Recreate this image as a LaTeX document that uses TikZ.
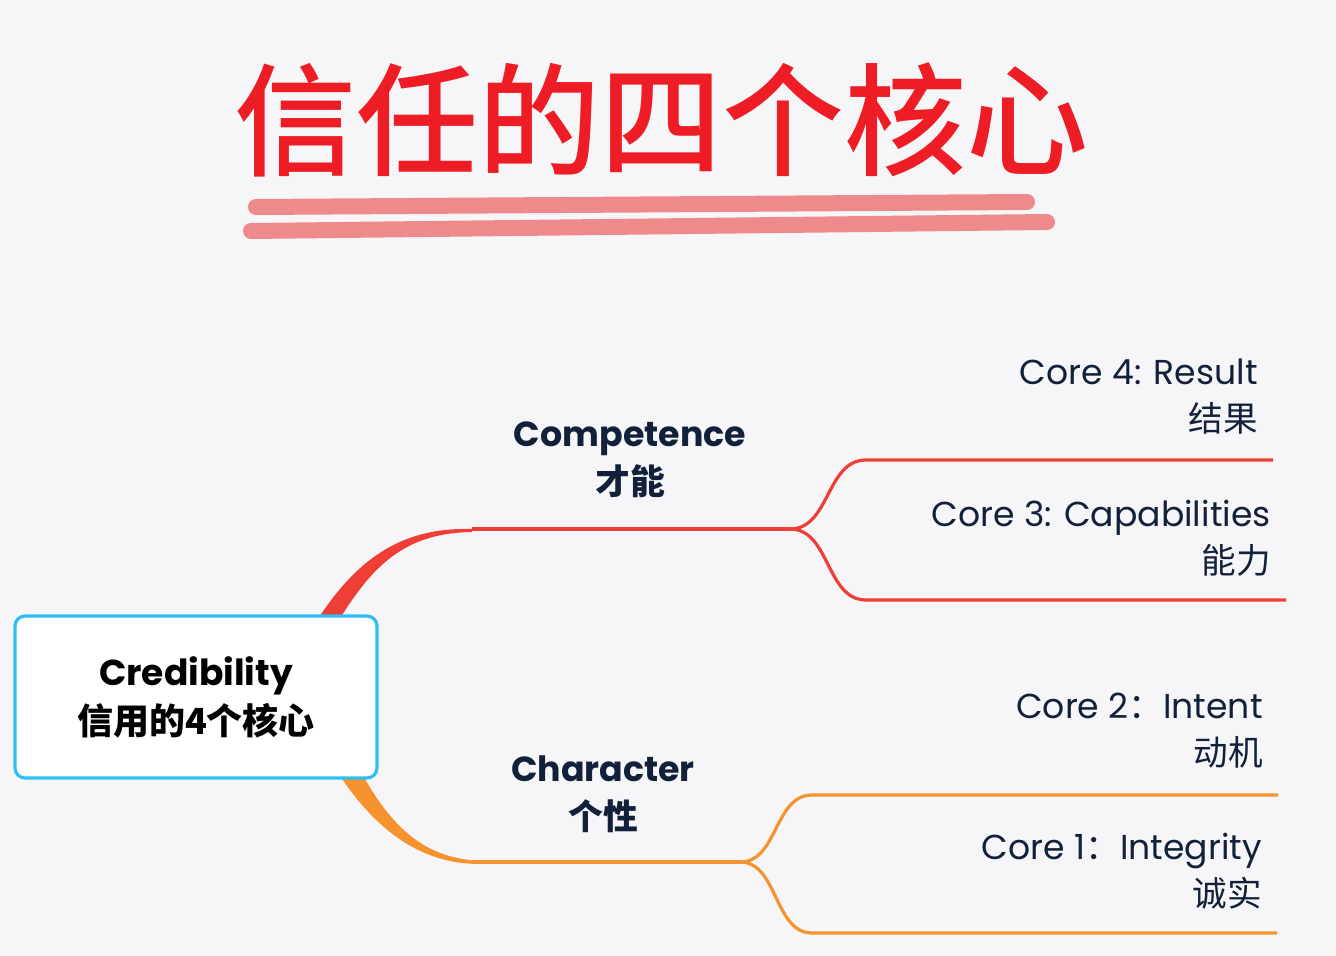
\documentclass[tikz,border=0pt]{standalone}
\usepackage{fontspec}
\setmainfont{Poppins}
\newfontfamily\cjk{Noto Sans CJK SC}
\newfontfamily\cjkmed{Noto Sans CJK SC Medium}
\usepackage{xcolor}
\usepackage{tikz}
\usetikzlibrary{positioning, calc}

\definecolor{bgcol}{HTML}{F6F6F8}
\definecolor{titlered}{HTML}{EE1C25}
\definecolor{underpink}{HTML}{EE8A8C}
\definecolor{rootblue}{HTML}{2FBFF7}
\definecolor{branchred}{HTML}{EE3E36}
\definecolor{branchorange}{HTML}{F7932E}
\definecolor{navy}{HTML}{12203A}

\tikzset{
  rootbox/.style={draw=rootblue, line width=1.6pt, fill=white, rounded corners=5pt,
    minimum width=181pt, minimum height=81pt, align=center, font=\bfseries\fontsize{18}{24.5}\selectfont},
  mainlabel/.style={align=center, text=navy, inner sep=0pt, font=\bfseries\fontsize{17.4}{24}\selectfont},
  leaflabel/.style={anchor=east, align=right, text=navy, inner sep=0pt, font=\fontsize{17.3}{23.5}\selectfont},
  branchline/.style={line width=1.6pt},
  underline/.style={underpink, line width=8pt, line cap=round}
}

\begin{document}
\begin{tikzpicture}[x=0.5pt, y=-0.5pt]

% Canvas
\fill[bgcol] (0,0) rectangle (1336,956);
\useasboundingbox (0,0) rectangle (1336,956);

% Title
\node[text=titlered, inner sep=0pt, font=\cjkmed\fontsize{61}{61}\selectfont] (title) at (661,120) {信任的四个核心};
\draw[underline] (256,207) -- (1027,202);
\draw[underline] (251,231) -- (1047,222);

% Branch points
\coordinate (compL) at (472,529);
\coordinate (compR) at (790,529);
\coordinate (c4L) at (866,460);
\coordinate (c4R) at (1273,460);
\coordinate (c3L) at (866,600);
\coordinate (c3R) at (1286,600);
\coordinate (charL) at (480,862);
\coordinate (charR) at (740,862);
\coordinate (c2L) at (812,795);
\coordinate (c2R) at (1278,795);
\coordinate (c1L) at (812,933);
\coordinate (c1R) at (1277,933);

% Thick roots of the two branches
\fill[branchred] (314,625) .. controls (355,560) and (400,527) .. (compL)
  -- ($(compL)+(0,3)$) .. controls (405,533) and (372,565) .. (336,625) -- cycle;
\fill[branchorange] (336,770) .. controls (375,830) and (420,864) .. ($(charL)+(0,2)$)
  -- ($(charL)+(0,-1)$) .. controls (430,858) and (395,835) .. (360,770) -- cycle;

% Competence branch
\draw[branchline, branchred] (compL) -- (compR);
\draw[branchline, branchred] (compR) .. controls (830,529) and (826,460) .. (c4L) -- (c4R);
\draw[branchline, branchred] (compR) .. controls (830,529) and (826,600) .. (c3L) -- (c3R);

% Character branch
\draw[branchline, branchorange] (compL |- charL) -- (charR);
\draw[branchline, branchorange] (charR) .. controls (778,862) and (774,795) .. (c2L) -- (c2R);
\draw[branchline, branchorange] (charR) .. controls (778,862) and (774,933) .. (c1L) -- (c1R);

% Root
\node[rootbox] (root) at (196,697) {Credibility\\{\cjk\bfseries 信用的4个核心}};

% Main topics
\node[mainlabel] (competence) at (630,460) {Competence\\{\cjk\bfseries 才能}};
\node[mainlabel] (character) at (603,794) {Character\\{\cjk\bfseries 个性}};

% Cores
\node[leaflabel] (core4) at (1258,397) {Core 4: Result\\{\cjk 结果}};
\node[leaflabel] (core3) at (1271,538) {Core 3: Capabilities\\{\cjk 能力}};
\node[leaflabel] (core2) at (1263,731) {Core 2{\cjk ：}Intent\\{\cjk 动机}};
\node[leaflabel] (core1) at (1262,871) {Core 1{\cjk ：}Integrity\\{\cjk 诚实}};

\end{tikzpicture}
\end{document}
